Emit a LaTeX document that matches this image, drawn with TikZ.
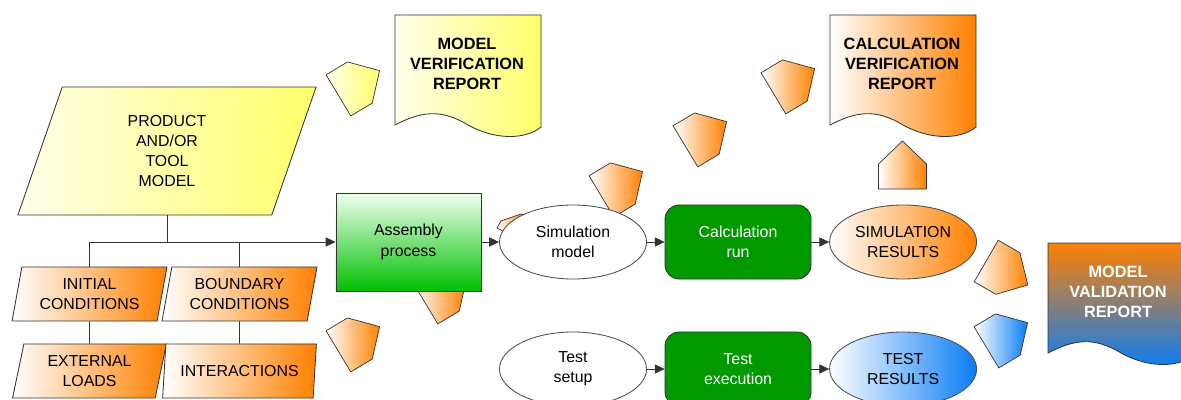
\documentclass[tikz,border=0pt]{standalone}
\usepackage{fontspec}
\setmainfont{Liberation Sans}
\usetikzlibrary{shapes.geometric,arrows.meta,positioning}

\definecolor{repOrange}{RGB}{255,128,0}
\definecolor{repYellow}{RGB}{255,255,105}
\definecolor{yellowLight}{RGB}{255,255,235}
\definecolor{repBlue}{RGB}{10,125,245}
\definecolor{runGreen}{RGB}{0,153,0}
\definecolor{asmGreen}{RGB}{0,192,0}
\definecolor{asmLight}{RGB}{240,255,240}

\def\px{0.025cm}

% pentagon marker: centre x, centre y (pixels, downwards), angle, style
\newcommand{\housemark}[4]{%
  \path[house, #4, shift={(#1,-#2)}, rotate=#3]
    (-24,-24) -- (1,-24) -- (24,0) -- (1,24) -- (-24,24) -- cycle;}

% report sheet with wavy lower edge: top left x, top left y, style
\newcommand{\reportpage}[3]{%
  \path[page, #3, shift={(#1,-#2)}]
    (0,0) -- (146,0) -- (146,-112)
    .. controls (130,-125) and (100,-125) .. (73,-110)
    .. controls (45,-93) and (25,-97) .. (0,-110) -- cycle;}

\begin{document}
\begin{tikzpicture}[x=\px, y=\px, >={Triangle[length=7pt,width=6.5pt]}, node distance=4.125cm]
            \tikzstyle{every node}=[font=\fontsize{11.3}{14.4}\selectfont, align=center]
            \tikzstyle{line}=[draw=black!80, line width=0.6pt]
            \tikzstyle{flow}=[line, ->]
            \tikzstyle{house}=[draw=black!80, line width=0.5pt]
            \tikzstyle{page}=[draw=black!80, line width=0.6pt]
            \tikzstyle{slanted}=[trapezium, trapezium left angle=77, trapezium right angle=103,
                trapezium stretches=true, draw=black!80, line width=0.6pt, inner sep=0pt]
            \tikzstyle{input data}=[slanted, minimum width=3.875cm, minimum height=1.35cm,
                left color=white, right color=repOrange]
            \tikzstyle{model data}=[slanted, minimum width=7.5cm, minimum height=3.2cm,
                left color=yellowLight, right color=repYellow]
            \tikzstyle{process}=[rectangle, draw=black!80, line width=0.6pt, minimum width=3.625cm,
                minimum height=2.45cm, top color=asmLight, bottom color=asmGreen]
            \tikzstyle{run}=[rectangle, rounded corners=0.35cm, draw=black!80, line width=0.6pt,
                fill=runGreen, text=white, minimum width=3.65cm, minimum height=1.85cm]
            \tikzstyle{stage}=[ellipse, draw=black!70, line width=0.6pt, fill=white, inner sep=0pt,
                minimum width=3.675cm, minimum height=1.85cm]
            \tikzstyle{sim result}=[stage, left color=white, right color=repOrange]
            \tikzstyle{test result}=[stage, left color=white, right color=repBlue]
            \tikzstyle{report text}=[font=\bfseries\fontsize{11.6}{14.4}\selectfont]

            \useasboundingbox (0,0) rectangle (1181,-400);

            % Input data of the model
            \node[model data] (prod) at (167,-151) {PRODUCT\\AND/OR\\TOOL\\MODEL};
            \node[input data] (init) at (89.5,-294) {INITIAL\\CONDITIONS};
            \node[input data] (bound) at (239.5,-294) {BOUNDARY\\CONDITIONS};
            \node[input data] (ext) at (89.5,-371) {EXTERNAL\\LOADS};
            \node[input data] (inter) at (239.5,-371) {INTERACTIONS};

            % Markers lying behind the process nodes
            \housemark{446}{291}{31}{left color=white, right color=repOrange}
            \housemark{622}{184}{31}{left color=white, right color=repOrange}
            \path[house, left color=white, right color=repOrange]
                (497,-228) -- (501,-221) -- (521,-214) -- (527,-216) -- (512,-236) -- cycle;

            % Simulation and test chains
            \node[process] (asm) at (408.5,-242) {Assembly\\process};
            \node[stage] (sim) at (573,-242) {Simulation\\model};
            \node[run, right of=sim] (calc) {Calculation\\run};
            \node[sim result, right of=calc] (simres) {SIMULATION\\RESULTS};
            \node[stage] (setup) at (573,-369) {Test\\setup};
            \node[run, right of=setup] (exec) {Test\\execution};
            \node[test result, right of=exec] (testres) {TEST\\RESULTS};

            % Reports
            \reportpage{395}{15}{left color=yellowLight, right color=repYellow}
            \node[report text] (mvr) at (467,-64) {MODEL\\VERIFICATION\\REPORT};
            \reportpage{830}{15}{left color=white, right color=repOrange}
            \node[report text] (cvr) at (902,-64) {CALCULATION\\VERIFICATION\\REPORT};
            \reportpage{1048}{243}{top color=repOrange, bottom color=repBlue}
            \node[report text, text=white] (mval) at (1118,-292) {MODEL\\VALIDATION\\REPORT};

            % Remaining markers
            \housemark{359}{83}{31}{left color=yellowLight, right color=repYellow}
            \housemark{359}{339}{31}{left color=white, right color=repOrange}
            \housemark{706}{134}{31}{left color=white, right color=repOrange}
            \housemark{794}{81}{31}{left color=white, right color=repOrange}
            \housemark{902.5}{165}{90}{left color=white, right color=repOrange}
            \housemark{1007}{273}{-30}{left color=white, right color=repOrange}
            \housemark{1007}{335}{31}{left color=white, right color=repBlue}

            % Connect the input data with the assembly process
            \draw[flow] (prod.center |- prod.south) |- (asm.west);
            \draw[line] (init.center |- init.north) |- (bound.center |- asm.west)
                -- (bound.center |- bound.north);
            \draw[line] (init) -- (ext);
            \draw[line] (bound) -- (inter);

            % Connect the chains
            \draw[flow] (asm) -- (sim);
            \draw[flow] (sim) -- (calc);
            \draw[flow] (calc) -- (simres);
            \draw[flow] (setup) -- (exec);
            \draw[flow] (exec) -- (testres);
        \end{tikzpicture}
\end{document}
